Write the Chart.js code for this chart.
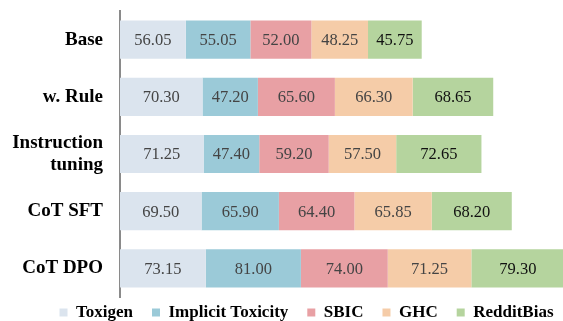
<!DOCTYPE html>
<html>
<head>
<meta charset="utf-8">
<script src="https://cdn.jsdelivr.net/npm/chart.js@4.4.1/dist/chart.umd.min.js"></script>
<style>
  html, body { margin: 0; padding: 0; background: #fff; overflow: hidden; }
  #wrap { width: 563px; height: 321px; }
</style>
</head>
<body>
<div id="wrap"><canvas id="myChart"></canvas></div>
<script>
// categories (y axis)
const methods = ['Base', 'w. Rule', ['Instruction', 'tuning'], 'CoT SFT', 'CoT DPO'];

// one array per dataset
const toxigen  = [56.05, 70.30, 71.25, 69.50, 73.15];
const implicitToxicity = [55.05, 47.20, 47.40, 65.90, 81.00];
const sbic = [52.00, 65.60, 59.20, 64.40, 74.00];
const ghc = [48.25, 66.30, 57.50, 65.85, 71.25];
const redditBias = [45.75, 68.65, 72.65, 68.20, 79.30];

const seriesNames = ['Toxigen', 'Implicit Toxicity', 'SBIC', 'GHC', 'RedditBias'];
const seriesColors = ['#dbe4ee', '#9bcad8', '#e8a0a4', '#f5cca8', '#b5d49e'];
const labelColors = ['#444', '#444', '#444', '#444', '#111'];

const allSeries = [toxigen, implicitToxicity, sbic, ghc, redditBias];

// draws the number in the middle of every bar segment
const valueLabels = {
  id: 'valueLabels',
  afterDatasetsDraw(chart) {
    const ctx = chart.ctx;
    ctx.save();
    ctx.font = '16.5px "Liberation Serif", "Times New Roman", serif';
    ctx.textAlign = 'center';
    ctx.textBaseline = 'middle';
    chart.data.datasets.forEach((ds, i) => {
      const meta = chart.getDatasetMeta(i);
      meta.data.forEach((bar, j) => {
        const p = bar.getProps(['x', 'y', 'base'], true);
        const cx = (p.x + p.base) / 2;
        if (cx > chart.chartArea.right) return;
        ctx.fillStyle = labelColors[i];
        ctx.fillText(ds.data[j].toFixed(2), cx, p.y + 1);
      });
    });
    ctx.restore();
  }
};

// the legend in the original sits a bit right of centre and close under the bars
const legendShift = {
  id: 'legendShift',
  afterLayout(chart) {
    const lg = chart.legend;
    if (!lg) return;
    lg.left += 25;
    lg.right += 25;
    lg.top -= 12;
    lg.bottom -= 12;
  }
};

const ctx = document.getElementById('myChart');

let barChart = new Chart(ctx, {
  type: 'bar',
  data: {
    labels: methods,
    datasets: allSeries.map((vals, i) => ({
      label: seriesNames[i],
      data: vals,
      backgroundColor: seriesColors[i],
      borderWidth: 0,
      categoryPercentage: 1,
      barPercentage: 0.667
    }))
  },
  options: {
    indexAxis: 'y',
    responsive: true,
    maintainAspectRatio: false,
    animation: false,
    layout: { padding: { top: 11, left: 0, right: 0, bottom: -22 } },
    scales: {
      x: {
        stacked: true,
        display: false,
        min: 0,
        max: 377.5
      },
      y: {
        stacked: true,
        afterFit: (scale) => {
          scale.width = 120;
          scale.paddingTop = 0;
          scale.paddingBottom = 0;
        },
        grid: { display: false, drawTicks: false },
        border: { display: true, color: '#8a8a8a', width: 2 },
        ticks: {
          autoSkip: false,
          padding: 17,
          color: '#000',
          font: { family: '"Liberation Serif", "Times New Roman", serif', size: 19, weight: 'bold', lineHeight: 1.2 }
        }
      }
    },
    plugins: {
      tooltip: { enabled: false },
      legend: {
        position: 'bottom',
        labels: {
          boxWidth: 8,
          boxHeight: 8,
          padding: 19,
          color: '#000',
          font: { family: '"Liberation Serif", "Times New Roman", serif', size: 17, weight: 'bold' }
        }
      }
    }
  },
  plugins: [valueLabels, legendShift]
});
</script>
</body>
</html>
